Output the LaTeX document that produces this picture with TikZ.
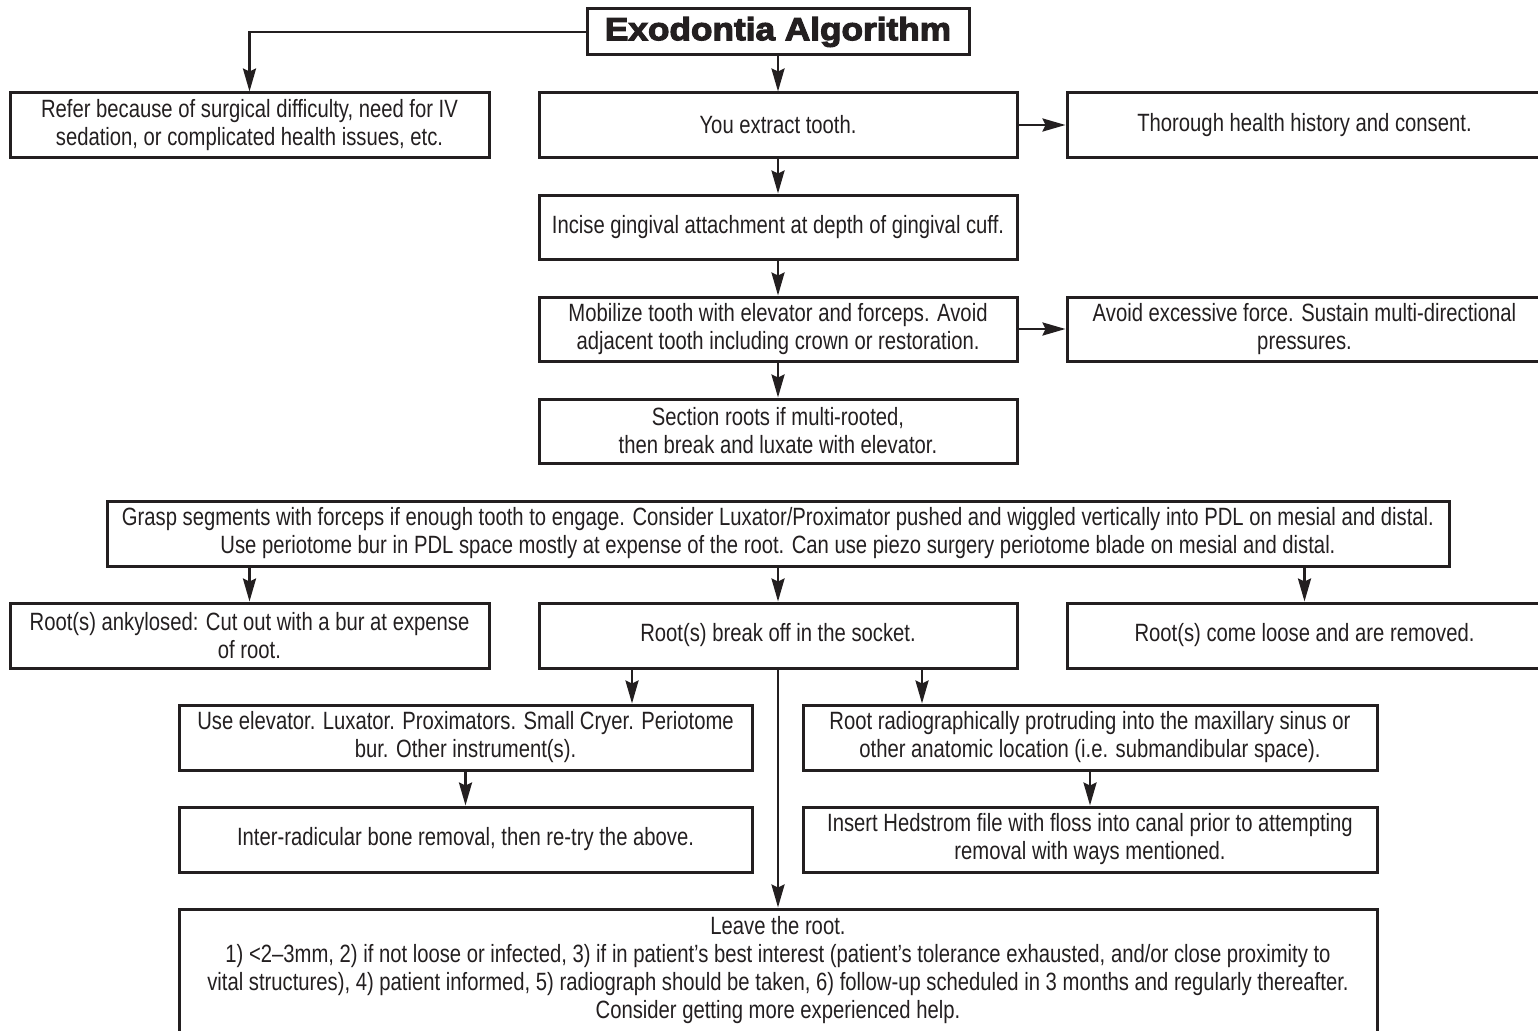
\documentclass[tikz,border=0pt]{standalone}
\usepackage{fontspec}
\setmainfont{Liberation Sans}[FakeStretch=0.81]
\newfontfamily\titlefont{Liberation Sans}[FakeStretch=1.1, BoldFeatures={FakeBold=3.5}]
\usetikzlibrary{arrows.meta}
\definecolor{ink}{RGB}{35,31,32}
\begin{document}
\begin{tikzpicture}[x=1pt,y=-1pt,
  box/.style={draw=ink, line width=3pt, text=ink, align=center, inner sep=0pt,
    font=\fontsize{25}{28}\selectfont},
  txt/.style={text=ink, align=center, inner sep=0pt, font=\fontsize{25}{28}\selectfont},
  arr/.style={draw=ink, line width=2.7pt, -{Stealth[length=23pt,width=13pt,inset=3pt]}}]
\useasboundingbox (0,0) rectangle (1538,1030);
% nodes
\node[box, minimum width=382, minimum height=46] (title) at (778,32)
  {\titlefont\bfseries\fontsize{32}{34}\selectfont Exodontia Algorithm};
\node[box, minimum width=479, minimum height=64] (refer) at (249.5,125)
  {Refer because of surgical difficulty, need for IV\\sedation, or complicated health issues, etc.};
\node[box, minimum width=478, minimum height=64] (extract) at (778,125) {You extract tooth.};
\node[box, minimum width=475, minimum height=64] (thorough) at (1304.5,125) {Thorough health history and consent.};
\node[box, minimum width=478, minimum height=64] (incise) at (778,227) {Incise gingival attachment at depth of gingival cuff.};
\node[box, minimum width=478, minimum height=64] (mobilize) at (778,329)
  {Mobilize tooth with elevator and forceps. Avoid\\adjacent tooth including crown or restoration.};
\node[box, minimum width=475, minimum height=64] (avoid) at (1304.5,329)
  {Avoid excessive force. Sustain multi-directional\\pressures.};
\node[box, minimum width=478, minimum height=64] (section) at (778,431)
  {Section roots if multi-rooted,\\then break and luxate with elevator.};
\node[box, minimum width=1342, minimum height=65] (grasp) at (778,533.5)
  {Grasp segments with forceps if enough tooth to engage. Consider Luxator/Proximator pushed and wiggled vertically into PDL on mesial and distal.\\
   Use periotome bur in PDL space mostly at expense of the root. Can use piezo surgery periotome blade on mesial and distal.};
\node[box, minimum width=479, minimum height=65] (ankylosed) at (249.5,635.5)
  {Root(s) ankylosed: Cut out with a bur at expense\\of root.};
\node[box, minimum width=478, minimum height=65] (breakoff) at (778,635.5) {Root(s) break off in the socket.};
\node[box, minimum width=475, minimum height=65] (loose) at (1304.5,635.5) {Root(s) come loose and are removed.};
\node[box, minimum width=573, minimum height=65] (useelev) at (465.5,737.5)
  {Use elevator. Luxator. Proximators. Small Cryer. Periotome\\bur. Other instrument(s).};
\node[box, minimum width=574, minimum height=65] (rootradio) at (1090,737.5)
  {Root radiographically protruding into the maxillary sinus or\\other anatomic location (i.e. submandibular space).};
\node[box, minimum width=573, minimum height=65] (inter) at (465.5,839.5)
  {Inter-radicular bone removal, then re-try the above.};
\node[box, minimum width=574, minimum height=65] (insert) at (1090,839.5)
  {Insert Hedstrom file with floss into canal prior to attempting\\removal with ways mentioned.};
\node[box, minimum width=1198, minimum height=136] (leave) at (778,977) {};
\node[txt] (leavetxt) at (778,970)
  {Leave the root.\\
   1) <2–3mm, 2) if not loose or infected, 3) if in patient’s best interest (patient’s tolerance exhausted, and/or close proximity to\\
   vital structures), 4) patient informed, 5) radiograph should be taken, 6) follow-up scheduled in 3 months and regularly thereafter.\\
   Consider getting more experienced help.};
% connectors
\draw[arr] (title.west) -| (refer.north);
\draw[arr] (title.south) -- (extract.north);
\draw[arr] (extract.east) -- (thorough.west);
\draw[arr] (extract.south) -- (incise.north);
\draw[arr] (incise.south) -- (mobilize.north);
\draw[arr] (mobilize.south) -- (section.north);
\draw[arr] (mobilize.east) -- (avoid.west);
\draw[arr] (grasp.south -| ankylosed.north) -- (ankylosed.north);
\draw[arr] (grasp.south) -- (breakoff.north);
\draw[arr] (grasp.south -| loose.north) -- (loose.north);
\coordinate (bl) at ([xshift=-146pt]breakoff.south);
\coordinate (br) at ([xshift=144pt]breakoff.south);
\draw[arr] (bl) -- (bl |- useelev.north);
\draw[arr] (br) -- (br |- rootradio.north);
\draw[arr] (breakoff.south) -- (leave.north);
\draw[arr] (useelev.south) -- (inter.north);
\draw[arr] (rootradio.south) -- (insert.north);
\end{tikzpicture}
\end{document}
